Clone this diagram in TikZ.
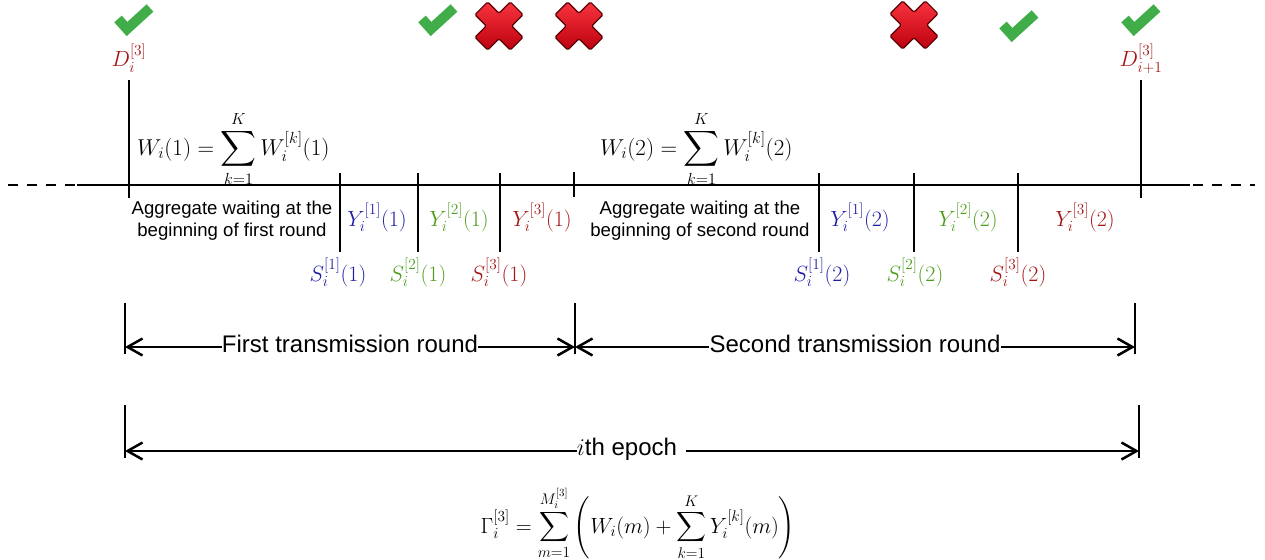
\RequirePackage{fix-cm}
\documentclass[tikz,border=0pt]{standalone}
\usepackage{amsmath}
\usepackage[no-math]{fontspec}
\newfontfamily\arialf{Liberation Sans}
\usetikzlibrary{arrows.meta}
\definecolor{cblue}{HTML}{1E1EA5}
\definecolor{cgreen}{HTML}{4E9C1E}
\definecolor{cred}{HTML}{A31616}
\definecolor{okgreen}{HTML}{40AD48}
\definecolor{xlight}{HTML}{F8343E}
\definecolor{xdark}{HTML}{BC000E}
\definecolor{xedge}{HTML}{5A0004}
\newcommand\mfs{\fontsize{22}{26}\selectfont}
\newcommand\wfs{\fontsize{23}{27}\selectfont}
\newcommand\tfs{\arialf\fontsize{18.6}{22}\selectfont}
\newcommand\bfs{\arialf\fontsize{24}{28}\selectfont}
\begin{document}
\begin{tikzpicture}[x=1pt,y=-1pt,
  tl/.style={line width=2.8pt},
  dim/.style={line width=2.5pt,-{Straight Barb[length=15pt,width=17pt]}},
  mlbl/.style={inner sep=0pt,font=\mfs,anchor=base},
  tlbl/.style={inner sep=0pt,font=\tfs,align=center},
  blbl/.style={inner sep=0pt,font=\bfs,anchor=base,fill=white},
  okmark/.pic={\draw[okgreen,line width=10pt,line join=miter,line cap=butt] (-15,-1) -- (-6,9) -- (17,-12);},
  nomark/.pic={\draw[xedge,line width=1.2pt,top color=xlight,bottom color=xdark,rounded corners=1.5pt,rotate=45]
     (9,9) -- (25,9) -- (25,-9) -- (9,-9) -- (9,-25) -- (-9,-25) -- (-9,-9) -- (-25,-9) -- (-25,9) -- (-9,9) -- (-9,25) -- (9,25) -- cycle;}
]
\useasboundingbox (0,0) rectangle (1265,559);

% marks
\pic at (133,20) {okmark};
\pic at (437,20) {okmark};
\pic at (499,26) {nomark};
\pic at (579,26) {nomark};
\pic at (914,25) {nomark};
\pic at (1018,26) {okmark};
\pic at (1140,20) {okmark};

% timeline
\draw[tl,dash pattern=on 10pt off 9pt] (8,185) -- (75,185);
\draw[tl] (77,185) -- (1190,185);
\draw[tl,dash pattern=on 10pt off 9pt] (1193,185) -- (1255,185);

% ticks
\draw[tl] (129,80) -- (129,198);
\draw[tl] (1141,80) -- (1141,198);
\foreach \x in {340,418,500,819,914,1018} \draw[tl] (\x,173) -- (\x,252);
\draw[tl] (574,172) -- (574,197);

% D labels
\node[mlbl,text=cred] (D1) at (129,67) {$D_i^{[3]}$};
\node[mlbl,text=cred] (D2) at (1141,67) {$D_{i+1}^{[3]}$};

% W formulas
\node[mlbl,font=\wfs,anchor=base west] (W1) at (137,155) {$\displaystyle W_i(1)=\sum_{k=1}^{K} W_i^{[k]}(1)$};
\node[mlbl,font=\wfs,anchor=base west] (W2) at (600,155) {$\displaystyle W_i(2)=\sum_{k=1}^{K} W_i^{[k]}(2)$};

% aggregate texts
\node[tlbl] (AG1) at (232,221) {Aggregate waiting at the\\beginning of first round};
\node[tlbl] (AG2) at (700,221) {Aggregate waiting at the\\beginning of second round};

% Y labels
\node[mlbl,text=cblue] (Y11) at (377,226) {$Y_i^{[1]}(1)$};
\node[mlbl,text=cgreen] (Y21) at (459,226) {$Y_i^{[2]}(1)$};
\node[mlbl,text=cred] (Y31) at (542,226) {$Y_i^{[3]}(1)$};
\node[mlbl,text=cblue] (Y12) at (860,226) {$Y_i^{[1]}(2)$};
\node[mlbl,text=cgreen] (Y22) at (968,226) {$Y_i^{[2]}(2)$};
\node[mlbl,text=cred] (Y32) at (1085,226) {$Y_i^{[3]}(2)$};

% S labels
\node[mlbl,text=cblue] (S11) at (338,281) {$S_i^{[1]}(1)$};
\node[mlbl,text=cgreen] (S21) at (418,281) {$S_i^{[2]}(1)$};
\node[mlbl,text=cred] (S31) at (499,281) {$S_i^{[3]}(1)$};
\node[mlbl,text=cblue] (S12) at (822,281) {$S_i^{[1]}(2)$};
\node[mlbl,text=cgreen] (S22) at (915,281) {$S_i^{[2]}(2)$};
\node[mlbl,text=cred] (S32) at (1018,281) {$S_i^{[3]}(2)$};

% transmission rounds
\coordinate (A1) at (125,347);
\coordinate (A2) at (575,347);
\coordinate (A3) at (1135,347);
\draw[tl] (125,303) -- (125,354);
\draw[tl] (575,303) -- (575,354);
\draw[tl] (1135,303) -- (1135,354);
\node[blbl] (FT) at (350,352) {First transmission round};
\node[blbl] (ST) at (855,352) {Second transmission round};
\draw[dim] (FT.west |- A1) -- (A1);
\draw[dim] (FT.east |- A1) -- (A2);
\draw[dim] (ST.west |- A1) -- (A2);
\draw[dim] (ST.east |- A1) -- (A3);

% epoch
\coordinate (E1) at (125,451);
\coordinate (E2) at (1139,451);
\draw[tl] (125,405) -- (125,458);
\draw[tl] (1139,405) -- (1139,458);
\node[blbl] (EP) at (627,455) {$\mathsurround=0pt \fontsize{26}{28}\selectfont i$th epoch};
\draw[dim] (EP.west |- E1) -- (E1);
\draw[dim] ([xshift=9pt]EP.east |- E1) -- (E2);

% Gamma
\node[mlbl] (G) at (638,533) {$\displaystyle \Gamma_i^{[3]}=\sum_{m=1}^{M_i^{[3]}}\left(W_i(m)+\sum_{k=1}^{K}Y_i^{[k]}(m)\right)$};
\end{tikzpicture}
\end{document}
